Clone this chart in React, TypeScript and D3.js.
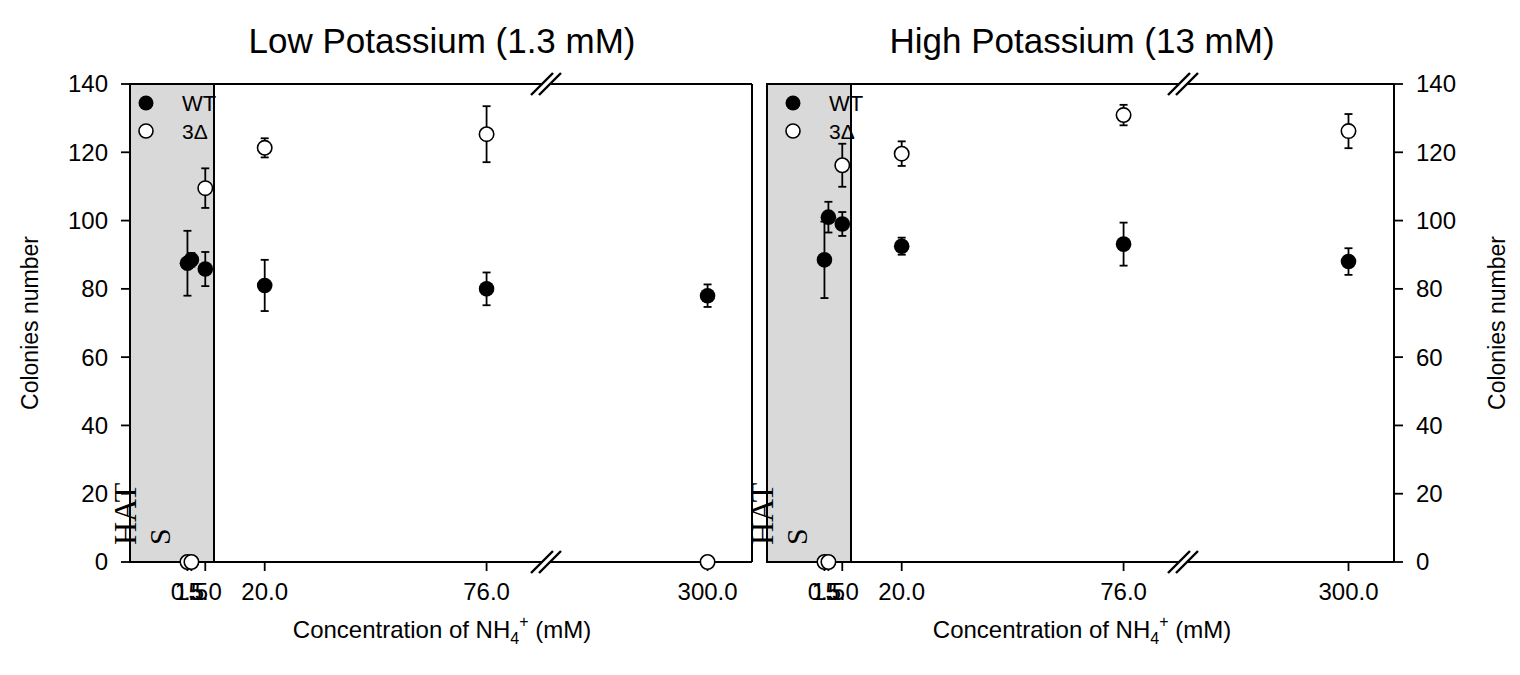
import React from 'react';
import * as d3 from 'd3';

// NH4+ concentrations (mM) and their tick labels
const concentrations = [0.5, 1.5, 5, 20, 76, 300];
const tickLabels = ['0.5', '1.5', '5.0', '20.0', '76.0', '300.0'];
const yTicks = [0, 20, 40, 60, 80, 100, 120, 140];

// Low potassium (1.3 mM)
const lowWT = [87.5, 88.5, 85.8, 81, 80, 78];
const lowWTErr = [9.5, 2, 5, 7.5, 4.8, 3.3];
const low3D = [0, 0, 109.5, 121.3, 125.3, 0];
const low3DErr = [0, 0, 5.8, 2.8, 8.2, 0];

// High potassium (13 mM)
const highWT = [88.5, 101, 99, 92.5, 93.1, 88];
const highWTErr = [11.2, 4.5, 3.5, 2.5, 6.3, 3.9];
const high3D = [0, 0, 116.2, 119.6, 130.9, 126.2];
const high3DErr = [0, 0, 6.3, 3.6, 3, 5];

const hatsEnd = 7.2;

const FONT = '"Liberation Sans", Arial, sans-serif';
const SERIF = '"Liberation Serif", "Times New Roman", serif';

const top = 84;
const bottom = 562;
const breakOffset = 416;

const y = d3.scaleLinear().domain([0, 140]).range([bottom, top]);

function makeX(x0: number, width: number) {
  const s1 = d3.scaleLinear().domain([-14, 91]).range([x0, x0 + breakOffset]);
  const s2 = d3.scaleLinear().domain([100, 355]).range([x0 + breakOffset, x0 + width]);
  return (v: number) => (v <= 91 ? s1(v) : s2(v));
}

function BreakMark({ cx, cy }: { cx: number; cy: number }) {
  return (
    <g stroke="#000" strokeWidth={2.4}>
      {[-4, 4].map((o) => (
        <line key={o} x1={cx + o - 11} y1={cy + 11} x2={cx + o + 11} y2={cy - 11} />
      ))}
    </g>
  );
}

function Panel(props: {
  x0: number;
  width: number;
  title: string;
  titleX: number;
  wt: number[];
  wtErr: number[];
  d3s: number[];
  d3Err: number[];
  axisSide: 'left' | 'right';
  legendDx: number;
}) {
  const { x0, width, title, titleX, wt, wtErr, d3s, d3Err, axisSide, legendDx } = props;
  const x = makeX(x0, width);
  const x1 = x0 + width;
  const bx = x0 + breakOffset;
  const axisX = axisSide === 'left' ? x0 : x1;
  const tickDir = axisSide === 'left' ? -1 : 1;

  const errBar = (v: number, e: number, i: number, key: string) => {
    if (e <= 0) return null;
    const cx = x(concentrations[i]);
    return (
      <g key={key} stroke="#000" strokeWidth={1.8}>
        <line x1={cx} x2={cx} y1={y(v - e)} y2={y(v + e)} />
        <line x1={cx - 4} x2={cx + 4} y1={y(v - e)} y2={y(v - e)} />
        <line x1={cx - 4} x2={cx + 4} y1={y(v + e)} y2={y(v + e)} />
      </g>
    );
  };

  return (
    <g>
      <text x={titleX} y={53} textAnchor="middle" fontFamily={FONT} fontSize={35}>
        {title}
      </text>

      {/* HATS region */}
      <rect
        x={x0}
        y={top}
        width={x(hatsEnd) - x0}
        height={bottom - top}
        fill="#d9d9d9"
        stroke="#000"
        strokeWidth={2}
      />

      {/* frame */}
      <g stroke="#000" strokeWidth={2} fill="none">
        <line x1={x0} x2={bx - 4} y1={top} y2={top} />
        <line x1={bx + 4} x2={x1} y1={top} y2={top} />
        <line x1={x0} x2={bx - 4} y1={bottom} y2={bottom} />
        <line x1={bx + 4} x2={x1} y1={bottom} y2={bottom} />
        <line x1={x0} x2={x0} y1={top} y2={bottom} />
        <line x1={x1} x2={x1} y1={top} y2={bottom} />
      </g>
      <BreakMark cx={bx} cy={top} />
      <BreakMark cx={bx} cy={bottom} />

      {/* y axis */}
      {yTicks.map((t) => (
        <g key={t}>
          <line
            x1={axisX}
            x2={axisX + tickDir * 9}
            y1={y(t)}
            y2={y(t)}
            stroke="#000"
            strokeWidth={1.8}
          />
          <text
            x={axisX + tickDir * 22}
            y={y(t)}
            dy="0.35em"
            textAnchor={axisSide === 'left' ? 'end' : 'start'}
            fontFamily={FONT}
            fontSize={24}
          >
            {t}
          </text>
        </g>
      ))}
      <text
        transform={`translate(${axisSide === 'left' ? 30 : 1497},${(top + bottom) / 2}) rotate(-90)`}
        textAnchor="middle"
        dy="0.35em"
        fontFamily={FONT}
        fontSize={23}
      >
        Colonies number
      </text>

      {/* x axis */}
      {concentrations.map((c, i) => (
        <g key={c}>
          <line x1={x(c)} x2={x(c)} y1={bottom} y2={bottom + 9} stroke="#000" strokeWidth={1.8} />
          <text x={x(c)} y={600} textAnchor="middle" fontFamily={FONT} fontSize={24}>
            {tickLabels[i]}
          </text>
        </g>
      ))}
      <text x={titleX} y={638} textAnchor="middle" fontFamily={FONT} fontSize={24}>
        Concentration of NH
        <tspan dy={6} fontSize={16}>4</tspan>
        <tspan dy={-17} fontSize={16}>+</tspan>
        <tspan dy={11}> (mM)</tspan>
      </text>

      {/* HATS label */}
      <text
        transform={`translate(${x0 + 6},545) rotate(-90)`}
        fontFamily={SERIF}
        fontSize={32}
      >
        HAT
      </text>
      <text
        transform={`translate(${x0 + 40},545) rotate(-90)`}
        fontFamily={SERIF}
        fontSize={30}
      >
        S
      </text>

      {/* error bars */}
      {wt.map((v, i) => errBar(v, wtErr[i], i, `we${i}`))}
      {d3s.map((v, i) => errBar(v, d3Err[i], i, `de${i}`))}

      {/* points */}
      {wt.map((v, i) => (
        <circle key={`w${i}`} cx={x(concentrations[i])} cy={y(v)} r={7.8} fill="#000" />
      ))}
      {d3s.map((v, i) => (
        <circle
          key={`d${i}`}
          cx={x(concentrations[i])}
          cy={y(v)}
          r={7.2}
          fill="#fff"
          stroke="#000"
          strokeWidth={1.6}
        />
      ))}

      {/* legend */}
      <circle cx={x0 + legendDx} cy={103} r={7.5} fill="#000" />
      <circle cx={x0 + legendDx} cy={131} r={7} fill="#fff" stroke="#000" strokeWidth={1.6} />
      <text x={x0 + legendDx + 36} y={111} fontFamily={FONT} fontSize={22}>
        WT
      </text>
      <text x={x0 + legendDx + 36} y={139} fontFamily={FONT} fontSize={21}>
        3Δ
      </text>
    </g>
  );
}

export default function App() {
  return (
    <svg
      width={1520}
      height={675}
      style={{ position: 'absolute', left: 0, top: 0, background: '#fff' }}
    >
      <Panel
        x0={130}
        width={622}
        title="Low Potassium (1.3 mM)"
        titleX={442}
        wt={lowWT}
        wtErr={lowWTErr}
        d3s={low3D}
        d3Err={low3DErr}
        axisSide="left"
        legendDx={16}
      />
      <Panel
        x0={767}
        width={627}
        title="High Potassium (13 mM)"
        titleX={1082}
        wt={highWT}
        wtErr={highWTErr}
        d3s={high3D}
        d3Err={high3DErr}
        axisSide="right"
        legendDx={26}
      />
    </svg>
  );
}
